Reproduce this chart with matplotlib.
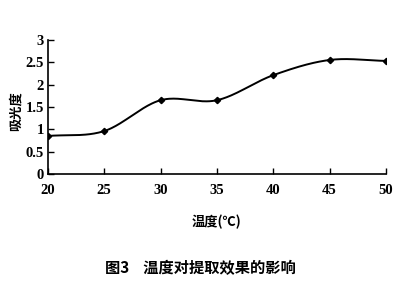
import numpy as np
import matplotlib
matplotlib.use('Agg')
from matplotlib import pyplot as plt

# data
temperature = [20, 25, 30, 35, 40, 45, 50]
absorbance = [0.85, 0.96, 1.65, 1.65, 2.21, 2.55, 2.53]
y_ticks = [0, 0.5, 1, 1.5, 2, 2.5, 3]
y_tick_labels = ['0', '0.5', '1', '1.5', '2', '2.5', '3']


def catmull_rom(xs, ys, n=40):
    # smoothed line through the points, like the spreadsheet "smooth line" option
    xs = np.asarray(xs, float)
    ys = np.asarray(ys, float)
    px = np.concatenate([[2 * xs[0] - xs[1]], xs, [2 * xs[-1] - xs[-2]]])
    py = np.concatenate([[2 * ys[0] - ys[1]], ys, [2 * ys[-1] - ys[-2]]])
    out_x, out_y = [], []
    t = np.linspace(0, 1, n)
    for i in range(1, len(px) - 2):
        for p, out in ((px, out_x), (py, out_y)):
            p0, p1, p2, p3 = p[i - 1], p[i], p[i + 1], p[i + 2]
            seg = 0.5 * ((2 * p1) + (-p0 + p2) * t + (2 * p0 - 5 * p1 + 4 * p2 - p3) * t ** 2
                         + (-p0 + 3 * p1 - 3 * p2 + p3) * t ** 3)
            out.extend(seg)
    return np.array(out_x), np.array(out_y)


serif = ['Liberation Serif', 'DejaVu Serif']
cjk = ['Noto Sans CJK SC', 'DejaVu Sans']

fig = plt.figure(figsize=(3.99, 2.89), dpi=100)
ax = fig.add_axes([0.120, 0.398, 0.847, 0.464])

sx, sy = catmull_rom(temperature, absorbance)
ax.plot(sx, sy, color='black', lw=1.4)
ax.plot(temperature, absorbance, 'D', color='black', markersize=3.2)

ax.set_xlim(20, 50)
ax.set_ylim(0, 3)
ax.set_xticks(temperature)
ax.set_yticks(y_ticks)
ax.set_xticklabels([str(t) for t in temperature], family=serif, fontweight='bold', fontsize=10.5)
ax.set_yticklabels(y_tick_labels, family=serif, fontweight='bold', fontsize=10.5)
ax.tick_params(axis='both', direction='in', length=4, width=1, pad=7)
ax.tick_params(axis='y', pad=3)
for side in ['top', 'right']:
    ax.spines[side].set_visible(False)
for side in ['left', 'bottom']:
    ax.spines[side].set_linewidth(1.2)
ax.patch.set_alpha(0)

ax.set_ylabel('吸光度', family=cjk, fontsize=9.5, fontweight='bold')
ax.yaxis.set_label_coords(-0.075, 0.47)
ax.set_xlabel('温度(℃)', family=cjk, fontsize=9.5, fontweight='bold', labelpad=13)

fig.text(0.503, 0.072, '图3    温度对提取效果的影响', family=cjk, fontsize=11,
         fontweight='bold', ha='center', va='center')

fig.savefig('out.png', dpi=100)
